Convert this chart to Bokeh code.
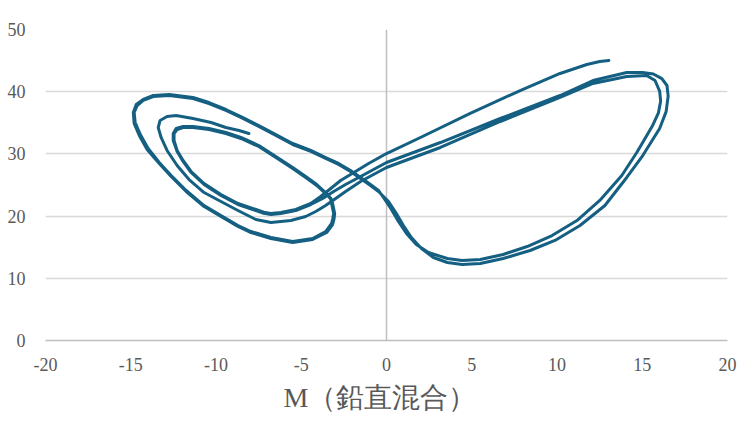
from bokeh.plotting import figure
from bokeh.models import Span, FixedTicker, Range1d, Title
from bokeh.embed import file_html
from bokeh.resources import INLINE

# Trajectory, split into consecutive segments (M, value)
seg1_m = [13.04, 12.51, 11.75, 10.18, 7.84, 4.91, 1.99, 0.0, -1.05, -2.11, -2.69, -3.27, -3.86, -4.44]
seg1_z = [45.02, 44.86, 44.37, 42.93, 40.19, 36.50, 32.64, 30.06, 28.46, 26.69, 25.72, 24.44, 23.15, 22.03]

seg2_m = [-5.32, -6.20, -6.78, -7.20, -7.66, -8.71, -9.71, -10.70, -11.46, -11.93, -12.28, -12.46, -12.46, -12.28,
          -11.93, -11.35, -10.41, -9.42, -8.54, -7.49, -6.49, -5.50, -4.74, -4.09, -3.57, -3.28, -3.22, -3.10,
          -3.15, -3.22, -3.57, -4.33, -5.50, -6.78, -7.95, -8.71, -9.71, -10.70, -11.75, -12.63, -13.33, -13.98,
          -14.44, -14.74, -14.80, -14.62, -14.27, -13.68, -12.75, -11.35, -10.41, -9.42, -8.54, -7.49,
          -6.49, -5.50, -4.44, -3.57, -2.81, -2.11, -1.52, -0.94, -0.47]
seg2_z = [21.06, 20.58, 20.42, 20.62, 21.06, 22.03, 23.47, 25.24, 27.17, 28.94, 30.55, 32.15, 33.28, 33.92,
          34.24, 34.24, 33.92, 33.28, 32.48, 31.19, 29.42, 27.65, 26.21, 24.92, 23.63, 22.80, 22.03, 20.42,
          19.60, 18.81, 17.52, 16.40, 15.92, 16.56, 17.52, 18.49, 20.10, 21.70, 24.12, 26.53, 28.62, 30.87,
          33.12, 35.05, 36.66, 37.78, 38.59, 39.23, 39.39, 38.91, 38.10, 36.98, 35.85, 34.41,
          32.96, 31.51, 30.39, 29.26, 28.30, 27.17, 26.05, 24.92, 23.95]

seg3_m = [0.12, 0.58, 0.99, 1.46, 2.05, 2.75, 3.57, 4.44, 5.50, 6.84, 8.42, 9.88, 11.35, 12.81, 14.09,
          15.03, 16.02, 16.40, 16.52, 16.45, 16.15, 15.65, 15.03, 14.09, 12.11, 10.18, 6.67, 3.16, 0.0, -1.52,
          -2.40, -3.10, -3.74, -4.44]
seg3_z = [22.35, 20.42, 18.49, 16.56, 14.79, 13.34, 12.54, 12.22, 12.38, 13.18, 14.47, 16.08, 18.49,
          21.70, 26.21, 29.74, 34.08, 36.80, 39.30, 41.00, 42.10, 42.85, 43.09, 43.09, 41.80, 39.39, 35.69,
          31.83, 28.62, 26.37, 25.08, 23.95, 22.83, 21.86]

seg4_m = [-5.32, -6.20, -6.78, -7.20, -7.66, -8.71, -9.71, -10.70, -11.46, -11.93, -12.28, -12.51, -12.51, -12.34,
          -11.93, -11.35, -10.41, -9.42, -8.54, -7.49, -6.49, -5.50, -4.74, -4.09, -3.51, -3.25, -3.16, -3.04,
          -3.08, -3.16, -3.51, -4.33, -5.50, -6.78, -7.95, -8.71, -9.71, -10.70, -11.75, -12.63, -13.33, -14.04,
          -14.50, -14.80, -14.85, -14.68, -14.27, -13.68, -12.75, -11.35, -10.41, -9.42, -8.54, -7.49,
          -6.49, -5.50, -4.44, -3.57, -2.81, -2.11, -1.52, -0.94, -0.47]
seg4_z = [20.90, 20.42, 20.26, 20.46, 20.90, 21.86, 23.31, 25.08, 27.01, 28.78, 30.39, 32.15, 33.28, 34.08,
          34.41, 34.41, 34.08, 33.44, 32.64, 31.35, 29.58, 27.81, 26.37, 25.08, 23.63, 22.80, 22.03, 20.42,
          19.50, 18.65, 17.36, 16.24, 15.76, 16.40, 17.36, 18.33, 19.94, 21.54, 23.95, 26.37, 28.46, 30.71,
          32.96, 34.89, 36.66, 37.94, 38.75, 39.39, 39.55, 39.07, 38.26, 37.14, 36.01, 34.57,
          33.12, 31.67, 30.55, 29.42, 28.46, 27.33, 26.21, 25.08, 24.12]

seg5_m = [-0.18, 0.29, 0.70, 1.17, 1.75, 2.46, 3.57, 4.44, 5.50, 6.84, 8.25, 9.71, 11.17, 12.51, 13.80,
          14.68, 15.61, 15.95, 16.08, 16.02, 15.75, 15.26, 14.09, 12.11, 10.18, 6.67, 3.16, 0.0, -1.52, -2.40,
          -2.98, -3.57]
seg5_z = [22.99, 21.06, 19.13, 17.20, 15.43, 14.15, 13.18, 12.86, 13.02, 13.83, 15.11, 16.88, 19.29,
          22.51, 26.53, 30.23, 34.57, 36.60, 38.50, 40.10, 41.80, 42.60, 42.44, 41.32, 39.07, 35.21, 31.03,
          27.81, 25.56, 23.95, 22.83, 21.70]

seg6_m = [-4.15, -4.74, -5.61, -6.78, -7.66, -8.71, -9.71, -10.70, -11.58, -12.28, -12.87, -13.22,
          -13.39, -13.28, -12.87, -12.34, -11.35, -10.29, -9.42, -8.65, -8.07]
seg6_z = [20.74, 19.94, 19.29, 18.97, 19.45, 20.90, 22.35, 23.79, 25.88, 28.14, 30.55, 32.64,
          34.24, 35.37, 36.01, 36.17, 35.69, 35.05, 34.24, 33.76, 33.28]

x_ticks = [-20, -15, -10, -5, 0, 5, 10, 15, 20]
x_tick_labels = ["-20", "-15", "-10", "-5", "0", "5", "10", "15", "20"]
y_ticks = [0, 10, 20, 30, 40, 50]
y_tick_labels = ["0", "10", "20", "30", "40", "50"]
x_title = "M（鉛直混合）"

m = seg1_m + seg2_m + seg3_m + seg4_m + seg5_m + seg6_m
z = seg1_z + seg2_z + seg3_z + seg4_z + seg5_z + seg6_z

p = figure(width=740, height=427, output_backend="svg", toolbar_location=None,
           x_range=Range1d(-20, 20), y_range=Range1d(0, 50),
           min_border_left=45, min_border_right=13, min_border_top=29, min_border_bottom=87)
p.outline_line_color = None
p.background_fill_color = "white"
p.border_fill_color = "white"

font = "Liberation Serif"
txt = "#595959"

p.xaxis.ticker = FixedTicker(ticks=x_ticks)
p.xaxis.major_label_overrides = {t: l for t, l in zip(x_ticks, x_tick_labels)}
p.yaxis.ticker = FixedTicker(ticks=y_ticks)
p.yaxis.major_label_overrides = {t: l for t, l in zip(y_ticks, y_tick_labels)}

for ax in (p.xaxis, p.yaxis):
    ax.major_tick_line_color = None
    ax.minor_tick_line_color = None
    ax.major_tick_out = 0
    ax.major_tick_in = 0
    ax.major_label_text_font = font
    ax.major_label_text_font_size = "18px"
    ax.major_label_text_color = txt

p.xaxis.axis_line_color = "#bfbfbf"
p.xaxis.axis_line_width = 1.5
p.yaxis.axis_line_color = None
p.xaxis.major_label_standoff = 17
p.yaxis.major_label_standoff = 20

p.xgrid.grid_line_color = None
p.ygrid.grid_line_color = "#d9d9d9"
p.ygrid.grid_line_width = 1.5

p.add_layout(Span(location=0, dimension="height", line_color="#bfbfbf", line_width=1.5, level="underlay"))

p.line(m, z, line_color="#156082", line_width=3, line_join="round", line_cap="round")

p.add_layout(Title(text=x_title, align="left", offset=238, standoff=16, vertical_align="top",
                   text_font=font, text_font_size="28px", text_font_style="normal",
                   text_color=txt), "below")

open("out.html", "w").write(file_html(p, INLINE))
